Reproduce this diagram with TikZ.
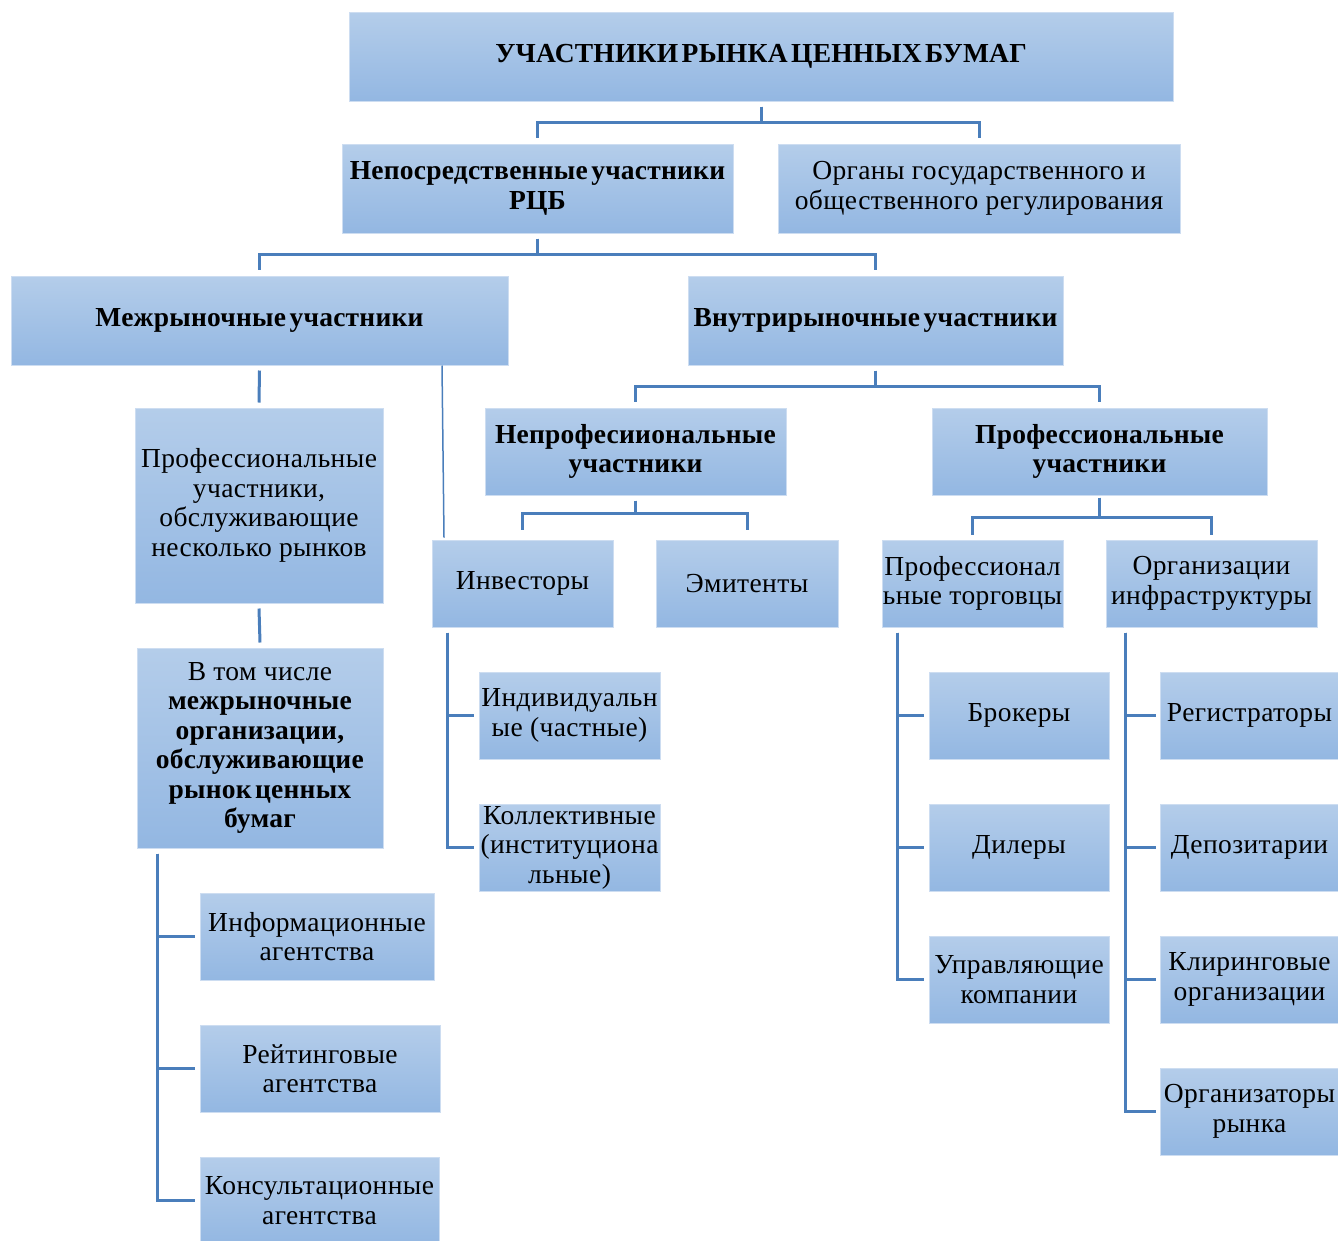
\documentclass[tikz,border=0pt]{standalone}
\usepackage{fontspec}
\setmainfont[LetterSpace=1.5,BoldFeatures={WordSpace=0.5,LetterSpace=0.8}]{Liberation Serif}
\usetikzlibrary{calc}
\definecolor{boxtop}{RGB}{180,205,234}
\definecolor{boxbot}{RGB}{147,183,226}
\definecolor{boxedge}{RGB}{205,221,241}
\definecolor{linec}{RGB}{74,126,187}
\tikzset{
  box/.style={rectangle, inner sep=0pt, top color=boxtop, bottom color=boxbot,
    draw=boxedge, line width=1pt, align=center, font=\fontsize{27.5}{29.5}\selectfont},
  bbox/.style={box, font=\fontsize{27.5}{29.5}\selectfont\bfseries},
  conn/.style={draw=linec, line width=3pt},
  thin/.style={draw=linec, line width=1.5pt},
}
\newcommand\mkbox[7]{%
  \pgfmathsetmacro\bw{#4-#2}\pgfmathsetmacro\bh{#5-#3}%
  \node[#7, minimum width=\bw pt, minimum height=\bh pt] (#1) at ({(#2+#4)/2},{(#3+#5)/2}) {#6};}
\begin{document}
\begin{tikzpicture}[x=1pt,y=-1pt]
\useasboundingbox (0,0) rectangle (1338,1240);
\mkbox{title}{349}{12}{1173}{101}{УЧАСТНИКИ РЫНКА ЦЕННЫХ БУМАГ}{bbox}
\mkbox{direct}{342}{144}{733}{233}{Непосредственные участники\\РЦБ}{bbox}
\mkbox{organs}{778}{144}{1180}{233}{Органы государственного и\\общественного регулирования}{box}
\mkbox{mezh}{11}{276}{508}{365}{Межрыночные участники}{bbox}
\mkbox{vnutr}{688}{276}{1063}{365}{Внутрирыночные участники}{bbox}
\mkbox{profmulti}{135}{408}{383}{603}{Профессиональные\\участники,\\обслуживающие\\несколько рынков}{box}
\mkbox{nonprof}{485}{408}{786}{495}{Непрофесииональные\\участники}{bbox}
\mkbox{prof}{932}{408}{1267}{495}{Профессиональные\\участники}{bbox}
\mkbox{inv}{432}{540}{613}{627}{Инвесторы}{box}
\mkbox{emit}{656}{540}{838}{627}{Эмитенты}{box}
\mkbox{trade}{882}{540}{1063}{627}{Профессионал\\ьные торговцы}{box}
\mkbox{infra}{1106}{540}{1317}{627}{Организации\\инфраструктуры}{box}
\mkbox{incl}{137}{648}{383}{848}{В том числе\\\textbf{межрыночные}\\\textbf{организации,}\\\textbf{обслуживающие}\\\textbf{рынок ценных}\\\textbf{бумаг}}{box}
\mkbox{ind}{479}{672}{660}{759}{Индивидуальн\\ые (частные)}{box}
\mkbox{koll}{479}{804}{660}{891}{Коллективные\\(институциона\\льные)}{box}
\mkbox{brok}{929}{672}{1109}{759}{Брокеры}{box}
\mkbox{dil}{929}{804}{1109}{891}{Дилеры}{box}
\mkbox{uprav}{929}{936}{1109}{1023}{Управляющие\\компании}{box}
\mkbox{reg}{1160}{672}{1339}{759}{Регистраторы}{box}
\mkbox{depo}{1160}{804}{1339}{891}{Депозитарии}{box}
\mkbox{clear}{1160}{936}{1339}{1023}{Клиринговые\\организации}{box}
\mkbox{orgm}{1160}{1068}{1339}{1155}{Организаторы\\рынка}{box}
\mkbox{info}{200}{893}{434}{980}{Информационные\\агентства}{box}
\mkbox{rate}{200}{1025}{440}{1112}{Рейтинговые\\агентства}{box}
\mkbox{cons}{200}{1157}{439}{1244}{Консультационные\\агентства}{box}
% tree connectors
\draw[conn] ([yshift=-5pt]title.south) -- ++(0,16) -| ([yshift=6pt]direct.north);
\draw[conn] ([yshift=-5pt]title.south) -- ++(0,16) -| ([yshift=6pt]organs.north);
\draw[conn] ([yshift=-5pt]direct.south) -- ++(0,16) -| ([yshift=6pt]mezh.north);
\draw[conn] ([yshift=-5pt]direct.south) -- ++(0,16) -| ([yshift=6pt]vnutr.north);
\draw[conn] ([yshift=-5pt]vnutr.south) -- ++(0,16) -| ([yshift=6pt]nonprof.north);
\draw[conn] ([yshift=-5pt]vnutr.south) -- ++(0,16) -| ([yshift=6pt]prof.north);
\draw[conn] ([yshift=-5pt]nonprof.south) -- ++(0,13) -| ([yshift=10pt]inv.north);
\draw[conn] ([yshift=-5pt]nonprof.south) -- ++(0,13) -| ([yshift=10pt]emit.north);
\draw[conn] ([yshift=-2pt]prof.south) -- ++(0,20) -| ([yshift=5pt]trade.north);
\draw[conn] ([yshift=-2pt]prof.south) -- ++(0,20) -| ([yshift=5pt]infra.north);
\draw[conn] ([yshift=-5pt]mezh.south) -- ([yshift=5pt]profmulti.north);
\draw[conn] ([yshift=-5pt]profmulti.south) -- ([yshift=5pt]incl.north);
\draw[thin] ([xshift=182.5pt]mezh.south) -- ([xshift=-78.5pt,yshift=2pt]inv.north);
% side trunks
\foreach \c in {ind,koll}
  \draw[conn] ([xshift=16pt,yshift=-5pt]inv.south west) |- ([xshift=-5pt]\c.west);
\foreach \c in {brok,dil,uprav}
  \draw[conn] ([xshift=16pt,yshift=-5pt]trade.south west) |- ([xshift=-5pt]\c.west);
\foreach \c in {reg,depo,clear,orgm}
  \draw[conn] ([xshift=20pt,yshift=-5pt]infra.south west) |- ([xshift=-4pt]\c.west);
\foreach \c in {info,rate,cons}
  \draw[conn] ([xshift=21pt,yshift=-5pt]incl.south west) |- ([xshift=-5pt]\c.west);
\end{tikzpicture}
\end{document}
